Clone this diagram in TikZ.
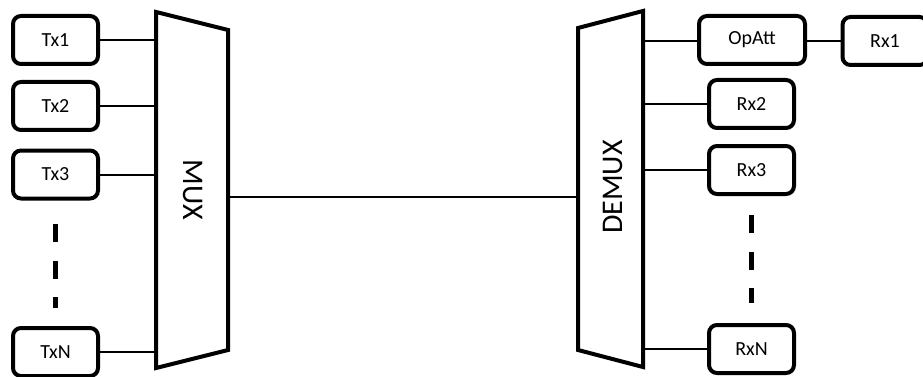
\documentclass[tikz,border=0pt]{standalone}
\usepackage{fontspec}
\setmainfont{Carlito}
\tikzset{unit/.style={draw, line width=4pt, rounded corners=8pt, minimum width=85pt, minimum height=48pt, inner sep=0pt, font=\fontsize{20}{20}\selectfont}}
\tikzset{wire/.style={line width=2pt}}
\tikzset{mux/.style={line width=4pt, line join=miter}}
\tikzset{gap/.style={line width=5pt, dash pattern=on 18pt off 18.5pt}}
\tikzset{bigtext/.style={inner sep=0pt, font=\fontsize{30}{30}\selectfont}}

\begin{document}
\begin{tikzpicture}[x=1pt, y=-1pt]
    \useasboundingbox (0,0) rectangle (923,377);

    % transmitters
    \node (t1) at (55.5,40) [unit] {Tx1};
    \node (t2) at (55.5,106) [unit] {Tx2};
    \node (t3) at (55.5,174.5) [unit] {Tx3};
    \node (tn) at (55.5,352) [unit] {TxN};

    % receivers
    \node (att) at (752,40) [unit, minimum width=106pt] {OpAtt};
    \node (r1) at (885,41) [unit] {Rx1};
    \node (r2) at (751.5,104) [unit] {Rx2};
    \node (r3) at (751.5,170) [unit] {Rx3};
    \node (rn) at (751.5,349) [unit] {RxN};

    % mux and demux bodies
    \draw[mux] (156,12) -- (228,30) -- (228,350) -- (156,368) -- cycle;
    \draw[mux] (578,28) -- (643,11) -- (643,367) -- (578,350) -- cycle;
    \coordinate (muxin) at (156,190);
    \coordinate (muxout) at (228,197);
    \coordinate (dmxin) at (578,197);
    \coordinate (dmxout) at (643,190);
    \node (muxlbl) at (193,190) [bigtext, rotate=-90] {MUX};
    \node (dmxlbl) at (613,187) [bigtext, rotate=90] {DEMUX};

    \draw[wire] (t1.east) -- (t1.east -| muxin);
    \draw[wire] (t2.east) -- (t2.east -| muxin);
    \draw[wire] (t3.east) -- (t3.east -| muxin);
    \draw[wire] (tn.east) -- (tn.east -| muxin);
    \draw[wire] (muxout) -- (dmxin);
    \draw[wire] (r1.west -| dmxout) -- (r1.west -| att.west);
    \draw[wire] (r1.west -| att.east) -- (r1.west);
    \draw[wire] (r2.west -| dmxout) -- (r2.west);
    \draw[wire] (r3.west -| dmxout) -- (r3.west);
    \draw[wire] (rn.west -| dmxout) -- (rn.west);

    % the remaining channels
    \draw[gap] ([yshift=-23.5pt]t3.south) -- ([yshift=18pt]tn.north);
    \draw[gap] ([yshift=-19pt]r3.south) -- ([yshift=20pt]rn.north);
\end{tikzpicture}
\end{document}
